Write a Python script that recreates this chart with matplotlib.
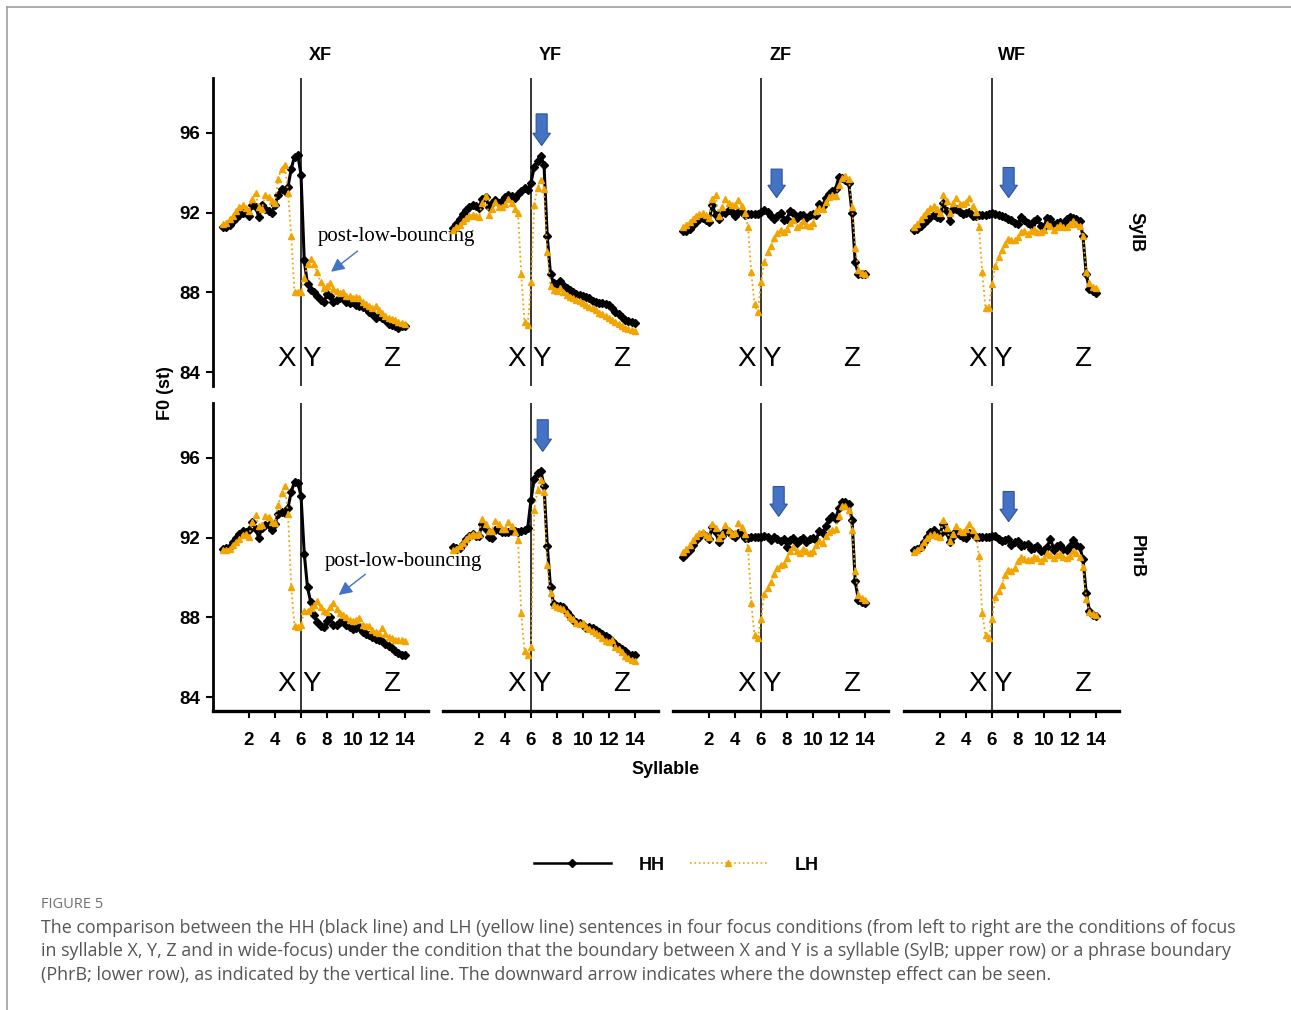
"""
F0 contours of HH and LH sentences under four focus conditions
"""

import numpy
import matplotlib
matplotlib.use("Agg")
from matplotlib import pyplot
from matplotlib.lines import Line2D
from matplotlib.patches import FancyArrow

# syllable position of each sample (4 samples per syllable, 0 .. 14)
syllable = numpy.arange(57) * 0.25

focus = ["XF", "YF", "ZF", "WF"]
boundary = ["SylB", "PhrB"]

# ---- SylB row ----
hh_xf_sylb = [91.3, 91.3, 91.4, 91.6, 91.75, 91.9, 92.0, 92.1, 91.85, 92.4, 92.3, 91.8,
              92.4, 92.2, 92.1, 92.0, 92.4, 92.9, 93.2, 93.1, 93.3, 94.2, 94.8, 94.9,
              93.9, 89.6, 88.4, 88.1, 88.0, 87.8, 87.6, 87.5, 87.9, 87.8, 87.5, 87.6,
              87.7, 87.7, 87.5, 87.45, 87.5, 87.35, 87.3, 87.25, 87.2, 87.0, 86.9, 86.7,
              86.8, 86.7, 86.6, 86.4, 86.35, 86.3, 86.2, 86.3, 86.3]
lh_xf_sylb = [91.45, 91.5, 91.7, 91.85, 92.1, 92.3, 92.4, 92.25, 92.1, 92.7, 93.0, 92.3,
              92.2, 92.9, 92.8, 92.6, 92.5, 93.7, 94.2, 94.4, 93.0, 90.8, 88.0, 88.0,
              88.0, 88.7, 89.4, 89.65, 89.4, 89.0, 88.5, 88.2, 88.3, 88.45, 88.15, 88.05,
              87.95, 88.0, 87.8, 87.8, 87.7, 87.75, 87.7, 87.5, 87.4, 87.3, 87.2, 87.3,
              87.1, 86.95, 86.8, 86.7, 86.65, 86.6, 86.5, 86.45, 86.4]
hh_yf_sylb = [91.25, 91.45, 91.7, 91.95, 92.15, 92.3, 92.4, 92.35, 92.25, 92.7, 92.8, 92.3,
              92.5, 92.65, 92.5, 92.6, 92.8, 92.9, 92.85, 92.75, 92.95, 93.1, 93.25, 93.15,
              93.5, 94.3, 94.6, 94.85, 94.4, 90.8, 88.9, 88.45, 88.4, 88.55, 88.35, 88.2,
              88.1, 88.0, 87.9, 87.85, 87.8, 87.75, 87.7, 87.55, 87.5, 87.45, 87.45, 87.4,
              87.35, 87.2, 87.0, 86.9, 86.75, 86.6, 86.55, 86.5, 86.45]
lh_yf_sylb = [91.15, 91.3, 91.4, 91.6, 91.75, 91.85, 91.9, 91.85, 91.8, 92.5, 92.85, 91.9,
              92.2, 92.55, 92.3, 92.3, 92.45, 92.7, 92.5, 92.2, 92.0, 88.9, 86.5, 86.35,
              88.5, 92.4, 93.25, 93.65, 93.2, 90.0, 88.3, 88.1, 88.05, 88.2, 88.0, 87.85,
              87.75, 87.7, 87.6, 87.55, 87.45, 87.35, 87.25, 87.2, 87.1, 86.95, 86.9, 86.8,
              86.7, 86.6, 86.5, 86.4, 86.3, 86.2, 86.15, 86.1, 86.05]
hh_zf_sylb = [91.1, 91.1, 91.2, 91.4, 91.55, 91.7, 91.75, 91.65, 91.55, 92.4, 91.9, 91.7,
              92.05, 92.0, 92.15, 92.05, 91.85, 92.05, 92.05, 91.9, 91.95, 91.95, 91.95, 91.95,
              92.05, 92.15, 92.05, 91.85, 91.7, 91.85, 92.0, 91.65, 91.7, 92.1, 92.0, 91.75,
              91.9, 91.9, 91.75, 91.9, 91.95, 91.9, 92.45, 92.35, 92.75, 92.95, 93.1, 93.2,
              93.8, 93.75, 93.65, 93.5, 92.0, 89.5, 88.9, 88.9, 88.9]
lh_zf_sylb = [91.3, 91.4, 91.55, 91.7, 91.85, 91.95, 92.0, 91.9, 91.75, 92.7, 92.9, 91.85,
              92.3, 92.7, 92.5, 92.4, 92.4, 92.65, 92.35, 92.0, 91.3, 89.0, 87.4, 87.0,
              88.5, 89.5, 90.0, 90.3, 90.7, 90.95, 91.15, 91.05, 91.2, 91.5, 91.65, 91.3,
              91.4, 91.6, 91.4, 91.35, 91.5, 92.1, 92.25, 92.2, 92.55, 92.8, 92.9, 92.85,
              93.4, 93.75, 93.85, 93.7, 92.3, 90.2, 89.1, 88.95, 88.9]
hh_wf_sylb = [91.15, 91.2, 91.35, 91.5, 91.65, 91.8, 91.9, 91.8, 91.75, 92.5, 92.1, 91.6,
              92.2, 92.2, 92.05, 91.95, 92.0, 92.05, 91.85, 91.85, 91.9, 91.9, 91.9, 91.95,
              92.0, 91.95, 91.9, 91.85, 91.8, 91.7, 91.65, 91.5, 91.45, 91.8, 91.65, 91.5,
              91.4, 91.6, 91.7, 91.35, 91.3, 91.75, 91.7, 91.4, 91.5, 91.55, 91.45, 91.7,
              91.8, 91.75, 91.7, 91.6, 90.8, 88.9, 88.15, 88.05, 87.95]
lh_wf_sylb = [91.3, 91.45, 91.7, 91.9, 92.1, 92.25, 92.35, 92.2, 92.0, 92.9, 92.6, 92.0,
              92.5, 92.75, 92.45, 92.45, 92.55, 92.75, 92.35, 92.05, 91.3, 89.0, 87.2, 87.2,
              88.4, 89.3, 89.75, 90.1, 90.4, 90.65, 90.6, 90.6, 90.75, 91.0, 91.1, 90.9,
              91.1, 91.2, 91.05, 91.05, 91.15, 91.45, 91.35, 91.15, 91.3, 91.4, 91.3, 91.3,
              91.45, 91.6, 91.45, 91.35, 90.8, 89.0, 88.45, 88.25, 88.2]

# ---- PhrB row ----
hh_xf_phrb = [91.45, 91.5, 91.55, 91.8, 92.0, 92.2, 92.35, 92.3, 92.4, 92.8, 92.45, 92.0,
              92.5, 92.65, 92.65, 92.4, 92.7, 93.2, 93.3, 93.25, 93.5, 94.3, 94.8, 94.75,
              94.1, 91.2, 89.5, 88.75, 88.1, 87.75, 87.55, 87.5, 87.8, 88.0, 87.6, 87.6,
              87.75, 87.85, 87.6, 87.5, 87.4, 87.45, 87.5, 87.25, 87.15, 87.1, 87.0, 86.9,
              86.85, 86.8, 86.65, 86.55, 86.45, 86.3, 86.2, 86.1, 86.1]
lh_xf_phrb = [91.4, 91.4, 91.45, 91.65, 91.8, 91.95, 92.15, 92.2, 92.05, 92.8, 93.15, 92.6,
              92.65, 93.1, 93.05, 92.8, 92.75, 93.65, 94.25, 94.6, 93.2, 89.5, 87.55, 87.5,
              87.6, 88.3, 88.3, 88.45, 88.6, 88.8, 88.5, 88.3, 88.25, 88.5, 88.7, 88.4,
              88.2, 88.1, 88.0, 87.85, 87.8, 87.85, 87.95, 87.6, 87.55, 87.55, 87.35, 87.25,
              87.2, 87.45, 87.15, 87.0, 86.95, 86.85, 86.85, 86.85, 86.8]
hh_yf_phrb = [91.55, 91.5, 91.5, 91.7, 91.95, 92.1, 92.2, 92.1, 92.1, 92.7, 92.45, 92.05,
              92.0, 92.4, 92.4, 92.3, 92.3, 92.3, 92.35, 92.35, 92.3, 92.35, 92.4, 92.5,
              93.9, 94.95, 95.25, 95.35, 94.6, 91.6, 89.5, 88.65, 88.55, 88.55, 88.5, 88.25,
              88.05, 87.85, 87.75, 87.7, 87.6, 87.45, 87.5, 87.45, 87.35, 87.25, 87.15, 87.05,
              86.95, 86.8, 86.65, 86.5, 86.4, 86.3, 86.15, 86.1, 86.1]
lh_yf_phrb = [91.4, 91.45, 91.6, 91.75, 91.95, 92.1, 92.2, 92.15, 92.2, 92.95, 92.7, 92.35,
              92.35, 92.85, 92.7, 92.45, 92.45, 92.8, 92.6, 92.3, 91.9, 88.2, 86.3, 86.1,
              86.5, 93.4, 94.4, 94.9, 94.3, 90.6, 89.2, 88.6, 88.5, 88.45, 88.4, 88.2,
              88.0, 87.9, 87.7, 87.65, 87.7, 87.5, 87.4, 87.3, 87.2, 87.1, 86.95, 86.8,
              86.75, 86.85, 86.5, 86.4, 86.25, 86.05, 85.95, 85.85, 85.8]
hh_zf_phrb = [91.05, 91.2, 91.4, 91.65, 91.9, 92.05, 92.2, 92.1, 91.95, 92.55, 92.3, 91.8,
              92.1, 92.35, 92.3, 92.15, 92.05, 92.25, 92.2, 92.0, 92.0, 92.05, 92.05, 92.05,
              92.05, 92.1, 92.05, 91.9, 92.05, 91.95, 91.85, 91.95, 91.55, 91.9, 92.0, 91.75,
              91.9, 92.0, 91.8, 91.95, 92.0, 91.9, 92.35, 92.25, 92.6, 92.95, 93.1, 92.95,
              93.5, 93.8, 93.8, 93.7, 92.9, 89.8, 88.85, 88.75, 88.7]
lh_zf_phrb = [91.3, 91.45, 91.65, 91.9, 92.1, 92.25, 92.3, 92.15, 92.05, 92.7, 92.5, 92.0,
              92.2, 92.65, 92.4, 92.2, 92.25, 92.75, 92.55, 92.2, 91.5, 88.7, 87.1, 86.95,
              87.9, 89.15, 89.45, 89.75, 90.15, 90.45, 90.6, 90.65, 90.95, 91.35, 91.55, 91.35,
              91.25, 91.45, 91.35, 91.25, 91.35, 91.65, 91.85, 91.75, 92.1, 92.3, 92.4, 92.45,
              93.1, 93.6, 93.6, 93.4, 92.4, 90.3, 89.1, 88.95, 88.85]
hh_wf_phrb = [91.4, 91.45, 91.55, 91.8, 92.05, 92.3, 92.4, 92.2, 92.2, 92.7, 92.3, 91.8,
              92.1, 92.35, 92.15, 92.05, 92.0, 92.25, 92.2, 92.05, 92.05, 92.05, 92.05, 92.05,
              92.1, 92.1, 91.95, 91.85, 91.9, 91.95, 91.65, 91.8, 91.85, 91.6, 91.65, 91.7,
              91.45, 91.5, 91.6, 91.35, 91.4, 91.55, 91.95, 91.4, 91.6, 91.65, 91.45, 91.4,
              91.6, 91.9, 91.65, 91.55, 90.9, 89.2, 88.3, 88.1, 88.05]
lh_wf_phrb = [91.3, 91.4, 91.55, 91.8, 92.0, 92.15, 92.2, 92.1, 92.05, 92.9, 92.5, 91.85,
              92.2, 92.6, 92.35, 92.3, 92.45, 92.7, 92.4, 92.1, 91.1, 88.2, 87.1, 86.95,
              87.9, 89.0, 89.3, 89.6, 90.1, 90.35, 90.3, 90.45, 90.8, 91.0, 90.9, 90.85,
              90.85, 91.0, 90.95, 90.8, 90.95, 91.25, 91.15, 90.95, 91.15, 91.2, 91.05, 90.95,
              91.1, 91.35, 91.25, 91.0, 90.5, 88.9, 88.25, 88.15, 88.1]

hh = [[hh_xf_sylb, hh_yf_sylb, hh_zf_sylb, hh_wf_sylb],
      [hh_xf_phrb, hh_yf_phrb, hh_zf_phrb, hh_wf_phrb]]
lh = [[lh_xf_sylb, lh_yf_sylb, lh_zf_sylb, lh_wf_sylb],
      [lh_xf_phrb, lh_yf_phrb, lh_zf_phrb, lh_wf_phrb]]

y_ticks = [84, 88, 92, 96]
x_ticks = [2, 4, 6, 8, 10, 12, 14]

# downstep arrows: (x, top, tip) per panel, None = no arrow
downstep = [[None, (6.82, 96.95, 95.36), (7.2, 94.18, 92.75), (7.28, 94.26, 92.75)],
            [None, (6.9, 97.91, 96.32), (7.36, 94.56, 93.06), (7.28, 94.31, 92.8)]]

# post-low-bouncing note: (text x, text y, arrow start, arrow tip)
bounce_note = [(7.25, 90.78, (10.35, 90.07), (8.31, 89.03)),
               (7.79, 90.79, (10.95, 90.16), (8.9, 89.12))]

orange = "#F2A400"
blue = "#4472C4"
bold_font = ["Liberation Sans", "DejaVu Sans"]
lab_size = 13

pyplot.rcParams["font.family"] = bold_font
pyplot.rcParams["font.weight"] = "bold"

W, H = 1291, 1010
fig = pyplot.figure(figsize=(W / 100., H / 100.), dpi=100)

col_left = [213, 443, 673, 904]
row_top = [78, 403]
pw, ph = 215, 308

for i in range(2):
    for j in range(4):
        ax = fig.add_axes([col_left[j] / W, 1 - (row_top[i] + ph) / H, pw / W, ph / H])
        ax.patch.set_visible(False)

        ax.plot(syllable, hh[i][j], color="black", lw=2.2, marker="D",
                ms=4.0, zorder=3)
        ax.plot(syllable, lh[i][j], color=orange, lw=1.3, ls=":", marker="^",
                ms=4.8, mec=orange, zorder=4)
        ax.axvline(6, color="black", lw=1.1, zorder=2)

        for letter, lx in zip(["X", "Y", "Z"], [4.9, 6.85, 12.95]):
            ax.text(lx, 84.65, letter, fontsize=20, ha="center", va="center",
                    family="Liberation Sans", fontweight="normal")

        ax.set_xlim(-0.77, 15.77)
        ax.set_ylim(83.3, 98.75)

        for s in ax.spines.values():
            s.set_visible(False)

        if j == 0:
            ax.spines["left"].set_visible(True)
            ax.spines["left"].set_linewidth(2.0)
            ax.set_yticks(y_ticks)
        else:
            ax.set_yticks([])
        if i == 1:
            ax.spines["bottom"].set_visible(True)
            ax.spines["bottom"].set_linewidth(2.4)
            ax.set_xticks(x_ticks)
        else:
            ax.set_xticks([])

        ax.tick_params(axis="y", length=5, width=1.5, pad=4, labelsize=13.5)
        ax.tick_params(axis="x", length=5, width=1.5, pad=10, labelsize=13.5)

        # facet titles
        if i == 0:
            ax.text(0.5, 1 + 23. / ph, focus[j], transform=ax.transAxes,
                    ha="center", va="center", fontsize=lab_size)
        if j == 3:
            ax.text(1 + 17. / pw, 0.5, boundary[i], transform=ax.transAxes,
                    ha="center", va="center", fontsize=lab_size, rotation=-90)

        # downstep arrow
        if downstep[i][j] is not None:
            ax_x, top, tip = downstep[i][j]
            ax.add_patch(FancyArrow(ax_x, top, 0, tip - top, width=0.85,
                                    head_width=1.35, head_length=0.62,
                                    length_includes_head=True,
                                    facecolor=blue, edgecolor="#2F5597",
                                    lw=0.8, zorder=5))

        # post-low-bouncing
        if j == 0:
            tx, ty, a0, a1 = bounce_note[i]
            ax.text(tx, ty, "post-low-bouncing", fontsize=15, va="center",
                    ha="left", family="Liberation Serif", fontweight="normal",
                    clip_on=False, zorder=6)
            ax.annotate("", xy=a1, xytext=a0,
                        arrowprops=dict(arrowstyle="-|>", color=blue, lw=1.0,
                                        mutation_scale=20, shrinkA=0, shrinkB=0))

fig.text(165 / W, 1 - 393 / H, "F0 (st)", rotation=90, ha="center",
         va="center", fontsize=lab_size)
fig.text(666 / W, 1 - 770 / H, "Syllable", ha="center", va="center",
         fontsize=lab_size)

handles = [Line2D([], [], color="black", lw=1.8, marker="D", ms=4),
           Line2D([], [], color=orange, lw=1.2, ls=":", marker="^", ms=4.5)]
fig.legend(handles, ["HH", "LH"], loc="center",
           bbox_to_anchor=(676 / W, 1 - 865 / H), ncol=2, frameon=False,
           handlelength=4.3, handletextpad=1.5, columnspacing=1.4,
           prop={"size": lab_size, "weight": "bold", "family": bold_font})

# caption
cap_font = ["Open Sans", "DejaVu Sans"]
fig.text(41 / W, 1 - 905 / H, "FIGURE 5", fontsize=10.5, color="#707070",
         family=cap_font, fontweight="normal", va="center")
caption = [
    "The comparison between the HH (black line) and LH (yellow line) sentences in four focus conditions (from left to right are the conditions of focus",
    "in syllable X, Y, Z and in wide-focus) under the condition that the boundary between X and Y is a syllable (SylB; upper row) or a phrase boundary",
    "(PhrB; lower row), as indicated by the vertical line. The downward arrow indicates where the downstep effect can be seen.",
]
for k, line in enumerate(caption):
    fig.text(41 / W, 1 - (928 + 23.5 * k) / H, line, fontsize=12.9,
             color="#555555", family=cap_font, fontweight="normal", va="center")

# frame around figure area
fig.add_artist(Line2D([7 / W, 1], [1 - 7 / H, 1 - 7 / H], color="#a0a0a0", lw=1.2))
fig.add_artist(Line2D([7 / W, 7 / W], [0, 1 - 7 / H], color="#a0a0a0", lw=1.2))

fig.savefig("out.png", dpi=100)
pyplot.close(fig)
